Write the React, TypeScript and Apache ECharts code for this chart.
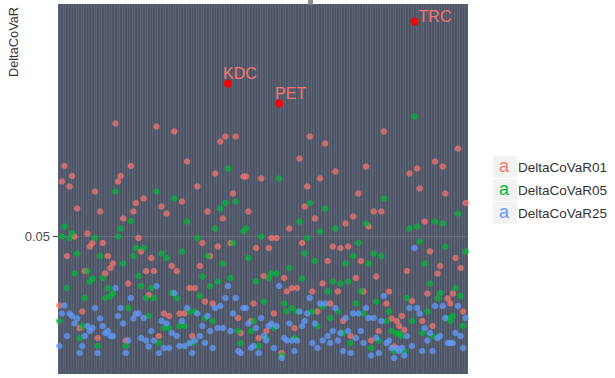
import React, { useEffect, useRef } from "react";
import * as echarts from "echarts";

const seriesNames = ["DeltaCoVaR01", "DeltaCoVaR05", "DeltaCoVaR25"];
const seriesColors = ["#F8766D", "#00BA38", "#619CFF"];
const yTicks = [0.05];

const r01 = [
  0.0361, 0.0609, 0.064, 0.046, 0.0599, 0.062, 0.0499, 0.0555, 0.0316, 0.0349,
  0.043, 0.0505, 0.0479, 0.0486, 0.0589, 0.0296, 0.0549, 0.0486, 0.0425, 0.046,
  0.0436, 0.0445, 0.0725, 0.0609, 0.062, 0.0535, 0.0291, 0.0405, 0.064, 0.0549,
  0.0566, 0.0496, 0.0469, 0.0575, 0.043, 0.0382, 0.0456, 0.043, 0.0719, 0.03,
  0.0559, 0.0345, 0.0545, 0.034, 0.044, 0.0709, 0.043, 0.0345, 0.0569, 0.0345,
  0.0649, 0.0396, 0.03, 0.0396, 0.0599, 0.044, 0.0486, 0.0369, 0.0549, 0.046,
  0.0365, 0.0625, 0.0479, 0.0689, 0.0535, 0.0699, 0.0805, 0.0486, 0.0585, 0.0699,
  0.0336, 0.0306, 0.0619, 0.0619, 0.0549, 0.033, 0.0365, 0.0476, 0.0296, 0.0615,
  0.042, 0.031, 0.0476, 0.0496, 0.0345, 0.0496, 0.0765, 0.0266, 0.0416, 0.0389,
  0.0515, 0.0396, 0.0316, 0.0396, 0.0655, 0.0486, 0.0559, 0.0599, 0.0699, 0.0389,
  0.0535, 0.0349, 0.0615, 0.0405, 0.0685, 0.045, 0.0365, 0.0479, 0.0629, 0.0389,
  0.0476, 0.033, 0.0525, 0.0479, 0.03, 0.0539, 0.0416, 0.0585, 0.045, 0.0389,
  0.0639, 0.0519, 0.0291, 0.0549, 0.0419, 0.031, 0.0549, 0.0709, 0.0365, 0.0389,
  0.0335, 0.0279, 0.033, 0.032, 0.034, 0.0312, 0.043, 0.0625, 0.037, 0.0929,
  0.0635, 0.0595, 0.033, 0.0529, 0.0385, 0.0469, 0.032, 0.0649, 0.0425, 0.044,
  0.0639, 0.0585, 0.0375, 0.0365, 0.0385, 0.0456, 0.0675, 0.0436, 0.0349, 0.0566,
];

const r05 = [
  0.033, 0.0499, 0.0519, 0.0396, 0.0496, 0.0506, 0.0425, 0.0465, 0.0296, 0.032,
  0.0376, 0.043, 0.0409, 0.0415, 0.0496, 0.028, 0.046, 0.0416, 0.0376, 0.0396,
  0.038, 0.0386, 0.0589, 0.0499, 0.0515, 0.0445, 0.028, 0.0356, 0.053, 0.046,
  0.0476, 0.042, 0.04, 0.0476, 0.0376, 0.034, 0.0396, 0.0376, 0.0589, 0.0286,
  0.0465, 0.0316, 0.0456, 0.0316, 0.0386, 0.0575, 0.0376, 0.032, 0.0469, 0.032,
  0.0529, 0.0349, 0.0286, 0.0349, 0.0496, 0.038, 0.0419, 0.0336, 0.046, 0.04,
  0.033, 0.0515, 0.0409, 0.0555, 0.0445, 0.0566, 0.0635, 0.0416, 0.0486, 0.0569,
  0.031, 0.0286, 0.0509, 0.0515, 0.0456, 0.031, 0.033, 0.0409, 0.028, 0.0499,
  0.0369, 0.0296, 0.0416, 0.0425, 0.0316, 0.0425, 0.0615, 0.0261, 0.0365, 0.0349,
  0.0436, 0.0356, 0.0296, 0.0349, 0.0529, 0.0415, 0.0465, 0.0496, 0.0566, 0.0349,
  0.045, 0.032, 0.0509, 0.0359, 0.0555, 0.0389, 0.0336, 0.0409, 0.0515, 0.0349,
  0.0405, 0.0306, 0.0445, 0.0409, 0.0286, 0.046, 0.0365, 0.0486, 0.0389, 0.0345,
  0.0525, 0.0445, 0.0276, 0.0465, 0.0369, 0.0291, 0.046, 0.0575, 0.033, 0.0349,
  0.031, 0.027, 0.0305, 0.0305, 0.03, 0.027, 0.0376, 0.0515, 0.033, 0.0739,
  0.0519, 0.0489, 0.0306, 0.0445, 0.0349, 0.0405, 0.03, 0.0529, 0.0375, 0.0386,
  0.0525, 0.0479, 0.0336, 0.033, 0.034, 0.0396, 0.0545, 0.038, 0.032, 0.0469,
];

const r25 = [
  0.028, 0.0345, 0.0361, 0.03, 0.0345, 0.034, 0.0325, 0.0335, 0.0266, 0.028,
  0.03, 0.032, 0.031, 0.0316, 0.0356, 0.0266, 0.0335, 0.032, 0.0306, 0.031,
  0.03, 0.03, 0.0396, 0.034, 0.0356, 0.0325, 0.0266, 0.0291, 0.0376, 0.0335,
  0.0345, 0.0345, 0.0296, 0.0336, 0.0291, 0.0279, 0.031, 0.0291, 0.04, 0.0266,
  0.033, 0.0276, 0.0325, 0.0276, 0.0306, 0.0386, 0.03, 0.028, 0.033, 0.028,
  0.0356, 0.0286, 0.0266, 0.0291, 0.0345, 0.03, 0.032, 0.0286, 0.034, 0.031,
  0.0276, 0.0356, 0.0316, 0.036, 0.0316, 0.0376, 0.04, 0.031, 0.0345, 0.0376,
  0.027, 0.0266, 0.0356, 0.0356, 0.0325, 0.0276, 0.028, 0.0316, 0.0266, 0.0336,
  0.03, 0.0291, 0.032, 0.0325, 0.0276, 0.032, 0.04, 0.0256, 0.0296, 0.0291,
  0.0325, 0.0291, 0.027, 0.0291, 0.0349, 0.032, 0.033, 0.0345, 0.0376, 0.0286,
  0.0325, 0.0276, 0.0365, 0.0291, 0.0365, 0.03, 0.0286, 0.031, 0.0356, 0.0291,
  0.0306, 0.027, 0.0336, 0.031, 0.0266, 0.0345, 0.0296, 0.0345, 0.031, 0.0286,
  0.0356, 0.0336, 0.0261, 0.0336, 0.0296, 0.0266, 0.033, 0.038, 0.0286, 0.0291,
  0.0276, 0.0256, 0.0276, 0.027, 0.0276, 0.0261, 0.03, 0.0356, 0.028, 0.0476,
  0.0356, 0.0345, 0.027, 0.0316, 0.0291, 0.0306, 0.027, 0.036, 0.0296, 0.03,
  0.036, 0.0336, 0.0286, 0.0286, 0.0286, 0.0306, 0.036, 0.03, 0.0276, 0.0336,
];

// highlighted firms: name, position (index in firm list), label offset
const highlightNames = ["KDC", "PET", "TRC"];
const highlightIndex = [66, 86, 139];
const highlightOffsets = [
  [-5, -10],
  [-4, -10],
  [4, -5],
];

const firms = r01.map((_, i) => {
  const h = highlightIndex.indexOf(i);
  return h >= 0 ? highlightNames[h] : "F" + String(i + 1).padStart(3, "0");
});

const FONT = "'Liberation Sans', Arial, Helvetica, sans-serif";

export default function App() {
  const ref = useRef<HTMLDivElement>(null);

  useEffect(() => {
    document.body.style.margin = "0";
    if (!ref.current) return;
    const chart = echarts.init(ref.current, null, { renderer: "svg" });

    const values = [r01, r05, r25];
    const scatterSeries = seriesNames.map((name, k) => ({
      name,
      type: "scatter",
      data: values[k],
      symbol: "circle",
      symbolSize: 6.5,
      itemStyle: { color: seriesColors[k], opacity: 0.72 },
      z: 3,
      ...(k === 0
        ? {
            markLine: {
              silent: true,
              symbol: "none",
              label: { show: false },
              lineStyle: { color: "#666d7d", width: 1, type: "solid" },
              data: yTicks.map((v) => ({ yAxis: v })),
              z: 1,
            },
          }
        : {}),
    }));

    const highlightSeries = {
      name: "highlight",
      type: "scatter",
      symbol: "circle",
      symbolSize: 8,
      z: 5,
      itemStyle: { color: "#ff0000", opacity: 1 },
      data: highlightNames.map((n, i) => ({
        name: n,
        value: [firms[highlightIndex[i]], r01[highlightIndex[i]]],
        label: { offset: highlightOffsets[i] },
      })),
      label: {
        show: true,
        formatter: "{b}",
        position: "inside",
        align: "left",
        verticalAlign: "middle",
        color: "#F8766D",
        fontSize: 16,
        fontFamily: FONT,
      },
    };

    const legendTop = 156;
    const rowH = 23;
    const graphicEls: any[] = [];
    seriesNames.forEach((_, k) => {
      graphicEls.push({
        type: "rect",
        left: 493,
        top: legendTop + k * rowH,
        shape: { width: 24, height: 22 },
        style: { fill: "#f2f2f2" },
        silent: true,
      });
      graphicEls.push({
        type: "text",
        x: 504,
        y: legendTop + k * rowH + 10,
        style: {
          text: "a",
          fill: seriesColors[k],
          font: `18px ${FONT}`,
          textAlign: "center",
          textVerticalAlign: "middle",
        },
        silent: true,
      });
    });
    graphicEls.push({
      type: "text",
      x: 13,
      y: 42,
      rotation: Math.PI / 2,
      style: {
        text: "DeltaCoVaR",
        fill: "#333333",
        font: `12.8px ${FONT}`,
        textAlign: "center",
        textVerticalAlign: "middle",
      },
      silent: true,
    });
    graphicEls.push({
      type: "rect",
      left: 308,
      top: 0,
      shape: { width: 5, height: 5 },
      style: { fill: "#8c8c8c" },
      silent: true,
    });

    chart.setOption({
      animation: false,
      backgroundColor: "#ffffff",
      grid: {
        left: 58,
        right: 148,
        top: 4,
        bottom: 4,
        show: true,
        backgroundColor: "#4e5566",
        borderWidth: 0,
      },
      xAxis: {
        type: "category",
        data: firms,
        boundaryGap: true,
        axisLine: { show: false },
        axisTick: { show: false },
        axisLabel: { show: false },
        splitLine: {
          show: true,
          interval: 0,
          lineStyle: { color: "#5c6375", width: 1 },
        },
      },
      yAxis: {
        type: "value",
        min: 0.0224,
        max: 0.0964,
        axisLine: { show: false },
        axisTick: {
          show: true,
          length: 5,
          customValues: yTicks,
          lineStyle: { color: "#444444" },
        },
        axisLabel: {
          customValues: yTicks,
          margin: 8,
          fontSize: 13,
          color: "#4d4d4d",
          fontFamily: FONT,
          formatter: (v: number) => v.toFixed(2),
        },
        splitLine: { show: false },
      },
      legend: {
        data: seriesNames,
        orient: "vertical",
        left: 484,
        top: legendTop - 5,
        padding: 5,
        itemWidth: 24,
        itemHeight: 22,
        itemGap: 1,
        icon: "rect",
        itemStyle: { color: "rgba(0,0,0,0)", borderWidth: 0 },
        selectedMode: false,
        textStyle: { color: "#333333", fontSize: 13.5, fontFamily: FONT },
      },
      graphic: graphicEls,
      series: [...scatterSeries, highlightSeries],
    });

    return () => chart.dispose();
  }, []);

  return (
    <div
      ref={ref}
      style={{ position: "absolute", left: 0, top: 0, width: 615, height: 378 }}
    />
  );
}
